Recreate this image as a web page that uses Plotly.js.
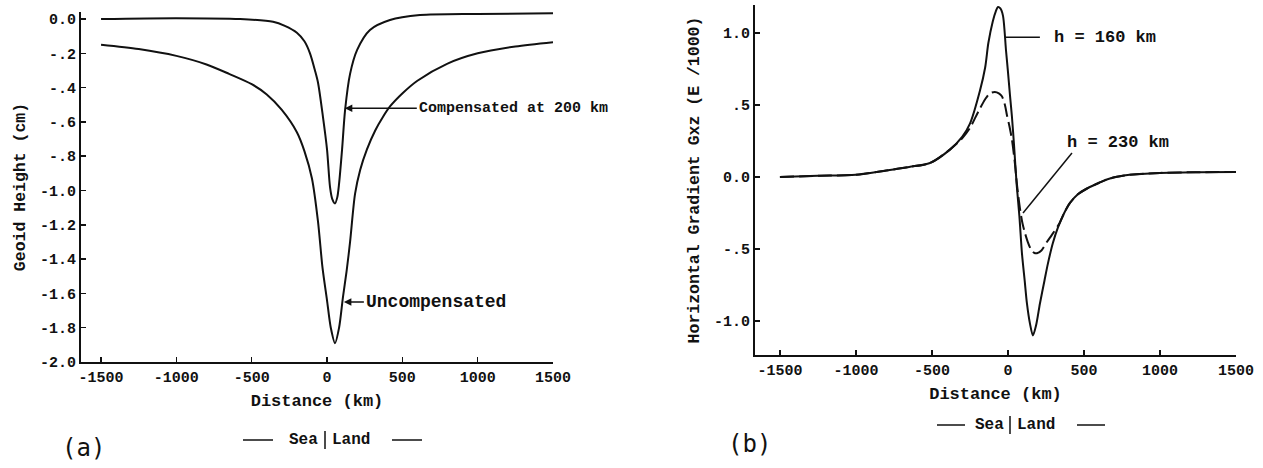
<!DOCTYPE html>
<html>
<head>
<meta charset="utf-8">
<script src="https://cdn.plot.ly/plotly-3.0.1.min.js"></script>
<style>html,body{margin:0;padding:0;background:#fff;} #chart{width:1263px;height:468px;}</style>
</head>
<body>
<div id="chart"></div>
<script>
// ---------- Data: panel (a) Geoid height ----------
const distUncomp = [-1500,-1250,-1000,-800,-650,-500,-400,-300,-200,-150,-100,-60,-30,0,25,53,80,106,130,153,186,220,265,320,372,418,505,600,800,1000,1250,1500];
const geoidUncomp = [-0.15,-0.175,-0.215,-0.265,-0.32,-0.38,-0.44,-0.53,-0.66,-0.77,-0.93,-1.18,-1.45,-1.64,-1.80,-1.89,-1.80,-1.62,-1.47,-1.30,-1.02,-0.88,-0.76,-0.65,-0.57,-0.51,-0.43,-0.36,-0.26,-0.20,-0.16,-0.135];
const distComp = [-1500,-1000,-577,-358,-280,-200,-150,-113,-80,-60,-27,0,20,35,53,68,80,100,120,153,200,285,418,617,1000,1500];
const geoidComp = [0.0,0.005,0.0,-0.016,-0.04,-0.08,-0.13,-0.20,-0.30,-0.37,-0.57,-0.76,-0.98,-1.05,-1.075,-1.04,-0.96,-0.76,-0.53,-0.32,-0.18,-0.064,-0.006,0.023,0.03,0.033];

// ---------- Data: panel (b) Horizontal gradient Gxz ----------
const dist160 = [-1500,-1250,-1000,-800,-650,-513,-382,-300,-250,-184,-150,-129,-100,-80,-66,-50,-33,-13,0,13,26,40,57,75,92,110,125,145,164,185,210,240,263,295,329,370,408,460,520,600,671,800,1000,1250,1500];
const grad160 = [0.0,0.008,0.015,0.045,0.07,0.097,0.19,0.28,0.37,0.60,0.76,0.93,1.08,1.15,1.18,1.17,1.12,0.88,0.73,0.57,0.42,0.22,-0.05,-0.27,-0.53,-0.72,-0.88,-1.02,-1.10,-1.03,-0.88,-0.72,-0.60,-0.46,-0.35,-0.25,-0.18,-0.12,-0.08,-0.04,-0.01,0.015,0.028,0.033,0.035];
const dist230 = [-1500,-1250,-1000,-800,-650,-513,-382,-300,-250,-197,-150,-120,-86,-60,-40,-20,-7,10,26,45,60,79,95,112,130,150,170,191,220,257,290,340,370,408,460,520,600,671,800,1000,1250,1500];
const grad230 = [0.0,0.008,0.015,0.045,0.07,0.097,0.19,0.27,0.34,0.45,0.54,0.58,0.59,0.58,0.56,0.50,0.43,0.35,0.26,0.10,-0.06,-0.22,-0.32,-0.39,-0.45,-0.50,-0.525,-0.53,-0.51,-0.45,-0.40,-0.32,-0.25,-0.18,-0.12,-0.08,-0.04,-0.01,0.015,0.028,0.033,0.035];

// ---------- Tick labels ----------
const xTickVals = [-1500,-1000,-500,0,500,1000,1500];
const xTickText = ['-1500','-1000','-500','0','500','1000','1500'];
const yTickValsA = [0,-0.2,-0.4,-0.6,-0.8,-1.0,-1.2,-1.4,-1.6,-1.8,-2.0];
const yTickTextA = ['0.0','-.2','-.4','-.6','-.8','-1.0','-1.2','-1.4','-1.6','-1.8','-2.0'];
const yTickValsB = [1.0,0.5,0.0,-0.5,-1.0];
const yTickTextB = ['1.0','.5','0.0','-.5','-1.0'];

// ---------- helpers (pixel -> paper) ----------
const W = 1263, H = 468;
const px = v => v / W;
const py = v => 1 - v / H;

const ink = '#111';
const mono = 'Liberation Mono, Courier New, monospace';
const tickFont = {family: mono, size: 15, color: ink, weight: 'bold'};

const traces = [
  {x: distComp, y: geoidComp, xaxis: 'x', yaxis: 'y', mode: 'lines', name: 'Compensated at 200 km',
   line: {color: ink, width: 2, shape: 'spline', smoothing: 0.8}},
  {x: distUncomp, y: geoidUncomp, xaxis: 'x', yaxis: 'y', mode: 'lines', name: 'Uncompensated',
   line: {color: ink, width: 2, shape: 'spline', smoothing: 0.8}},
  {x: dist160, y: grad160, xaxis: 'x2', yaxis: 'y2', mode: 'lines', name: 'h = 160 km',
   line: {color: ink, width: 2, shape: 'spline', smoothing: 0.8}},
  {x: dist230, y: grad230, xaxis: 'x2', yaxis: 'y2', mode: 'lines', name: 'h = 230 km',
   line: {color: ink, width: 2, dash: '14px,5px', shape: 'spline', smoothing: 0.8}}
];

const axBase = {
  showgrid: false, zeroline: false, showline: true, linecolor: ink, linewidth: 2,
  ticks: 'inside', ticklen: 5, tickwidth: 1.5, tickcolor: ink, tickfont: tickFont,
  tickmode: 'array', fixedrange: true
};

const layout = {
  width: W, height: H,
  margin: {l: 0, r: 0, t: 0, b: 0},
  paper_bgcolor: '#fff', plot_bgcolor: '#fff',
  showlegend: false,
  xaxis: Object.assign({}, axBase, {
    domain: [px(81), px(553)], range: [-1633, 1500], anchor: 'y',
    tickvals: xTickVals, ticktext: xTickText,
    title: {text: 'Distance (km)', font: {family: mono, size: 17, color: ink, weight: 'bold'}, standoff: 8}
  }),
  yaxis: Object.assign({}, axBase, {
    domain: [py(362), py(12)], range: [-2.0, 0.041], anchor: 'x',
    tickvals: yTickValsA, ticktext: yTickTextA,
    title: {text: 'Geoid Height (cm)', font: {family: mono, size: 16.5, color: ink, weight: 'bold'}, standoff: 10}
  }),
  xaxis2: Object.assign({}, axBase, {
    domain: [px(755), px(1236)], range: [-1664, 1500], anchor: 'y2',
    tickvals: xTickVals, ticktext: xTickText,
    title: {text: 'Distance (km)', font: {family: mono, size: 17, color: ink, weight: 'bold'}, standoff: 8}
  }),
  yaxis2: Object.assign({}, axBase, {
    domain: [py(355), py(5)], range: [-1.236, 1.194], anchor: 'x2',
    tickvals: yTickValsB, ticktext: yTickTextB,
    title: {text: 'Horizontal Gradient Gxz (E /1000)', font: {family: mono, size: 16.5, color: ink, weight: 'bold'}, standoff: 10}
  }),
  annotations: [
    {x: 118, y: -0.52, xref: 'x', yref: 'y', text: 'Compensated at 200 km', showarrow: true,
     ax: 72, ay: 0, xanchor: 'left', arrowhead: 2, arrowsize: 1, arrowwidth: 1.5, arrowcolor: ink,
     font: {family: mono, size: 15, color: ink, weight: 'bold'}},
    {x: 112, y: -1.65, xref: 'x', yref: 'y', text: 'Uncompensated', showarrow: true,
     ax: 20, ay: 0, xanchor: 'left', arrowhead: 2, arrowsize: 1, arrowwidth: 1.5, arrowcolor: ink,
     font: {family: mono, size: 18, color: ink, weight: 'bold'}},
    {x: 290, y: 0.97, xref: 'x2', yref: 'y2', text: 'h = 160 km', showarrow: false, xanchor: 'left',
     font: {family: mono, size: 17, color: ink, weight: 'bold'}},
    {x: 375, y: 0.236, xref: 'x2', yref: 'y2', text: 'h = 230 km', showarrow: false, xanchor: 'left',
     font: {family: mono, size: 17, color: ink, weight: 'bold'}},
    {x: px(320), y: py(440), xref: 'paper', yref: 'paper', text: 'Sea', showarrow: false, xanchor: 'right', yanchor: 'middle',
     font: {family: mono, size: 16, color: ink, weight: 'bold'}},
    {x: px(330), y: py(440), xref: 'paper', yref: 'paper', text: 'Land', showarrow: false, xanchor: 'left', yanchor: 'middle',
     font: {family: mono, size: 16, color: ink, weight: 'bold'}},
    {x: px(1006), y: py(425), xref: 'paper', yref: 'paper', text: 'Sea', showarrow: false, xanchor: 'right', yanchor: 'middle',
     font: {family: mono, size: 16, color: ink, weight: 'bold'}},
    {x: px(1015), y: py(425), xref: 'paper', yref: 'paper', text: 'Land', showarrow: false, xanchor: 'left', yanchor: 'middle',
     font: {family: mono, size: 16, color: ink, weight: 'bold'}},
    {x: px(60), y: py(448), xref: 'paper', yref: 'paper', text: '(a)', showarrow: false, xanchor: 'left', yanchor: 'middle',
     font: {family: 'DejaVu Sans Mono, monospace', size: 24, color: ink}},
    {x: px(726), y: py(444), xref: 'paper', yref: 'paper', text: '(b)', showarrow: false, xanchor: 'left', yanchor: 'middle',
     font: {family: 'DejaVu Sans Mono, monospace', size: 24, color: ink}}
  ],
  shapes: [
    // h = 160 km leader
    {type: 'line', xref: 'x2', yref: 'y2', x0: -20, y0: 0.97, x1: 210, y1: 0.97, line: {color: ink, width: 1.5}},
    // h = 230 km leader
    {type: 'line', xref: 'x2', yref: 'y2', x0: 421, y0: 0.167, x1: 99, y1: -0.25, line: {color: ink, width: 1.5}},
    // Sea | Land panel a
    {type: 'line', xref: 'paper', yref: 'paper', x0: px(243), y0: py(440), x1: px(273), y1: py(440), line: {color: ink, width: 1.5}},
    {type: 'line', xref: 'paper', yref: 'paper', x0: px(325), y0: py(431), x1: px(325), y1: py(449), line: {color: ink, width: 1.5}},
    {type: 'line', xref: 'paper', yref: 'paper', x0: px(392), y0: py(440), x1: px(422), y1: py(440), line: {color: ink, width: 1.5}},
    // Sea | Land panel b
    {type: 'line', xref: 'paper', yref: 'paper', x0: px(937), y0: py(425), x1: px(965), y1: py(425), line: {color: ink, width: 1.5}},
    {type: 'line', xref: 'paper', yref: 'paper', x0: px(1010), y0: py(416), x1: px(1010), y1: py(434), line: {color: ink, width: 1.5}},
    {type: 'line', xref: 'paper', yref: 'paper', x0: px(1077), y0: py(425), x1: px(1105), y1: py(425), line: {color: ink, width: 1.5}}
  ]
};

Plotly.newPlot('chart', traces, layout, {displayModeBar: false, staticPlot: true});
</script>
</body>
</html>
